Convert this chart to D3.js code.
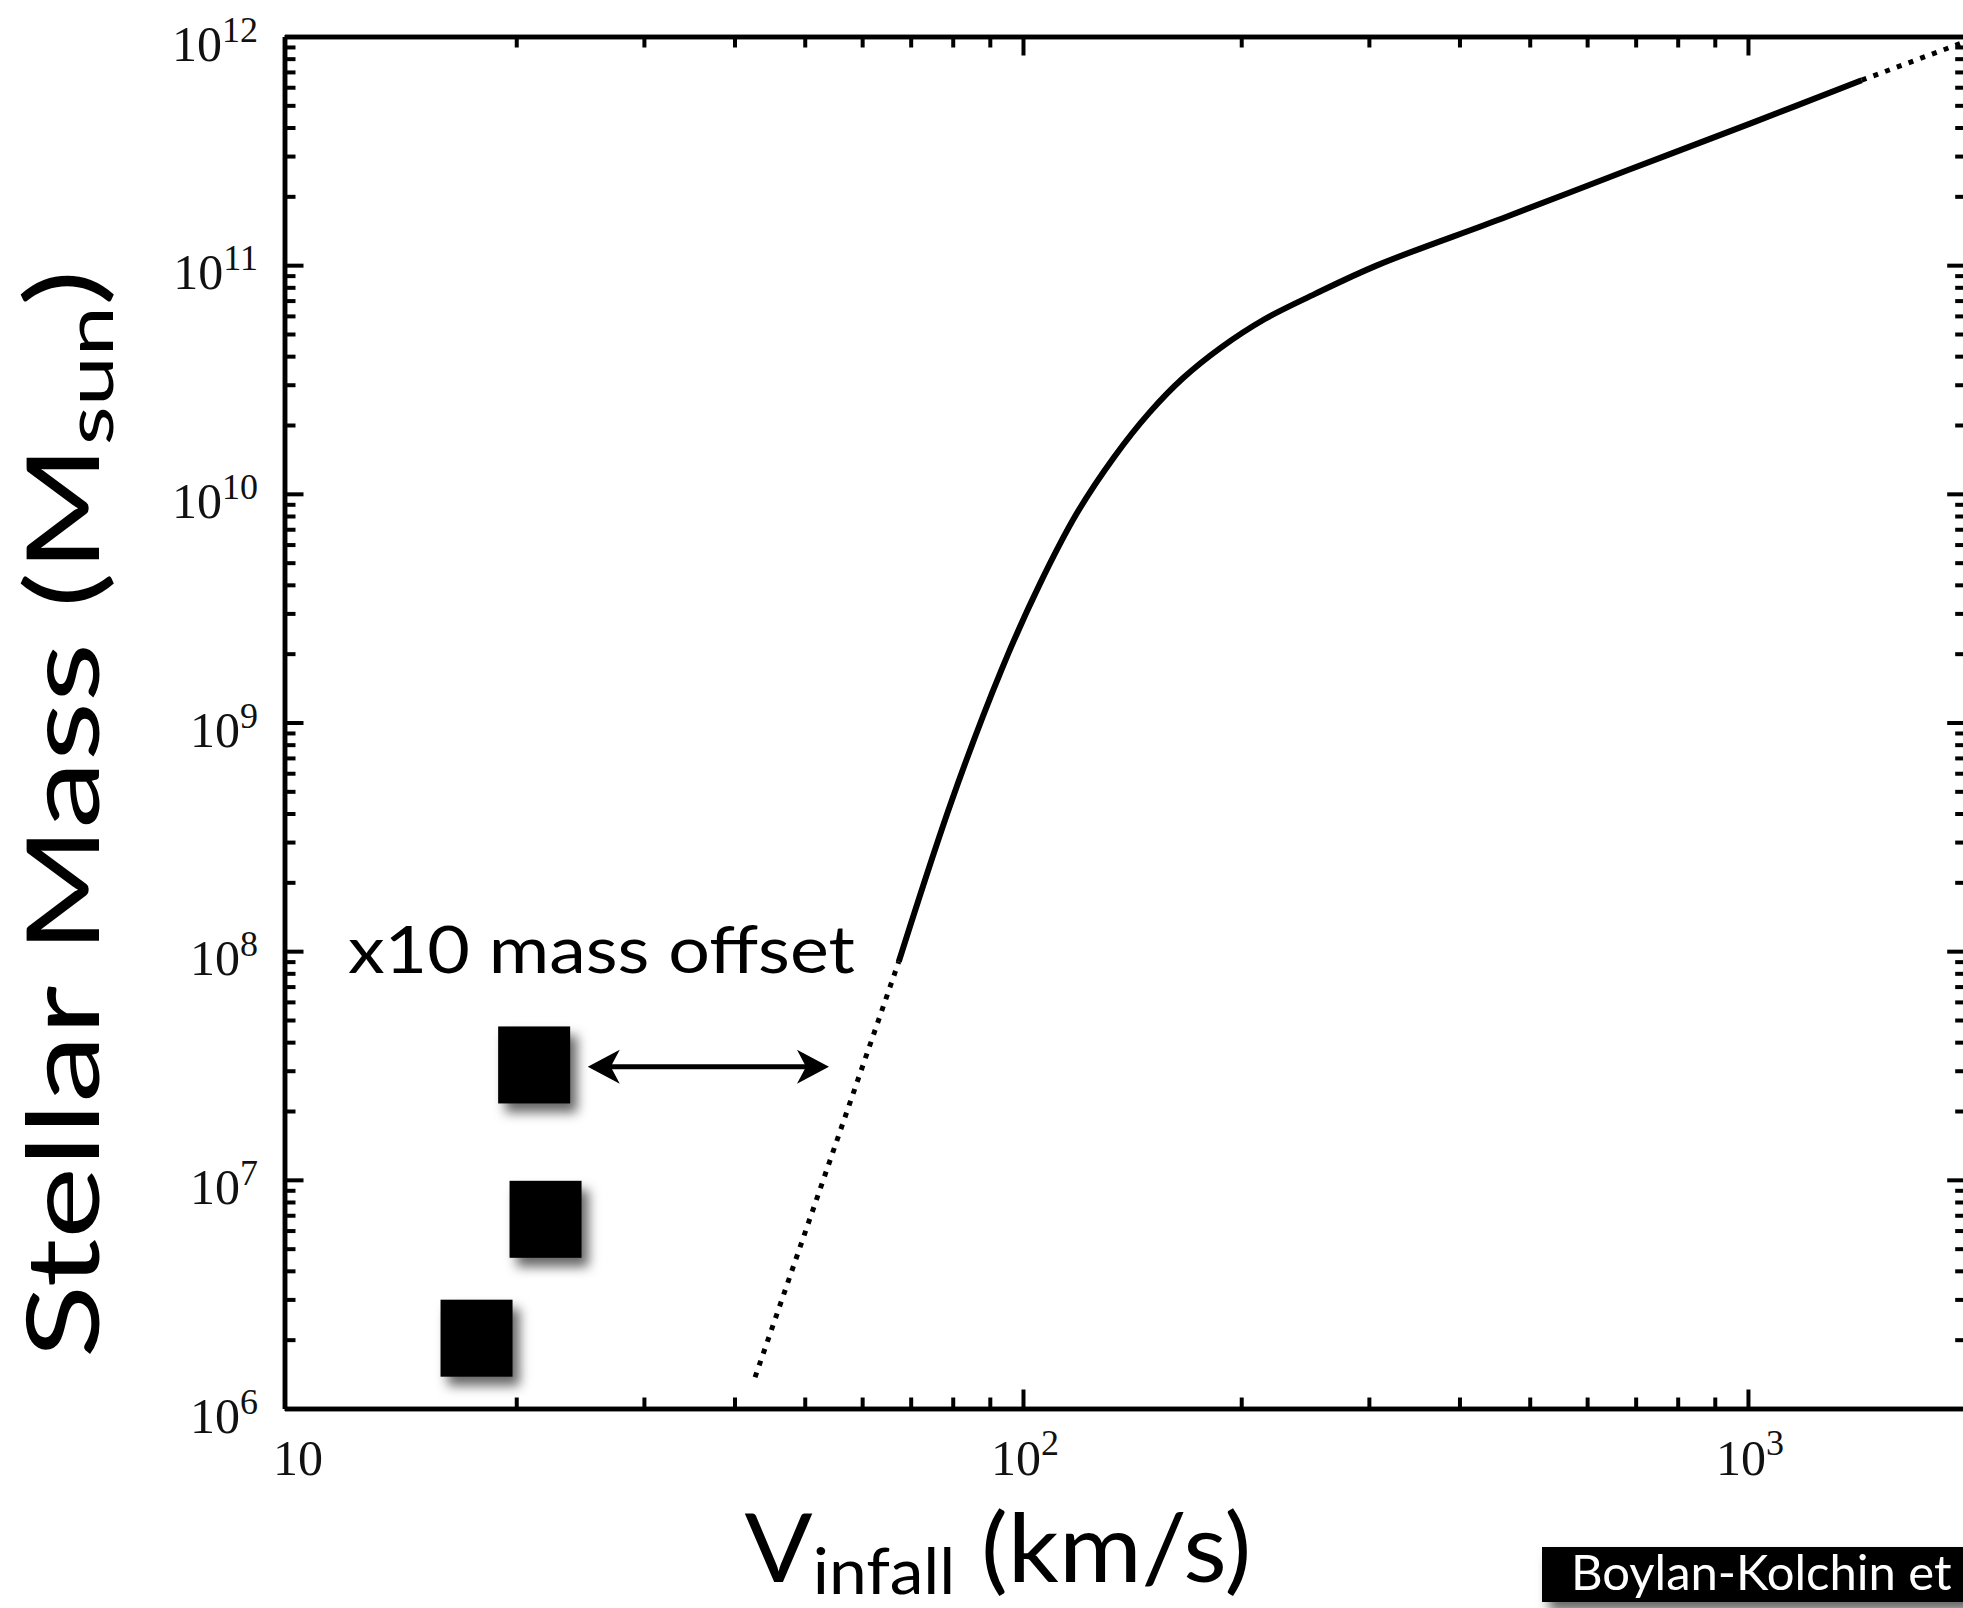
<!DOCTYPE html>
<html><head><meta charset="utf-8">
<script src="https://cdn.jsdelivr.net/npm/d3@7"></script>
<style>body{margin:0;background:#fff;} svg{display:block;}</style>
</head><body>
<svg id="chart" width="1963" height="1608"></svg>
<script>
// ---- data ----
const curveV = [67.4, 79.7, 93.4, 105.2, 118.6, 133.6, 149.3, 166.3, 187.3, 215.3, 252.5, 307.8, 458, 682, 1015, 1435];
const curveM = [9.0e7, 4.53e8, 1.70e9, 3.96e9, 8.2e9, 1.45e10, 2.26e10, 3.21e10, 4.35e10, 5.8e10, 7.47e10, 9.98e10, 1.60e11, 2.60e11, 4.20e11, 6.44e11];
const lowExtV = [42.7, 67.4];
const lowExtM = [1.37e6, 9.0e7];
const highExtV = [1435, 1961];
const highExtM = [6.44e11, 9.3e11];
const satV = [21.17, 21.95, 17.63];
const satM = [3.18e7, 6.72e6, 2.03e6];
const arrowV = [25.1, 54.0];
const arrowM = [3.12e7, 3.12e7];
const xTickVals = [10, 100, 1000];
const xTickExp = ["", "2", "3"];
const yTickVals = [1e6, 1e7, 1e8, 1e9, 1e10, 1e11, 1e12];
const yTickExp = ["6", "7", "8", "9", "10", "11", "12"];
const xMinor = [20,30,40,50,60,70,80,90,200,300,400,500,600,700,800,900];
const yMinor = [];
for (let e = 6; e < 12; e++) for (let k = 2; k <= 9; k++) yMinor.push(k * Math.pow(10, e));
const annotation = "x10 mass offset";
const xTitleMain = "V", xTitleSub = "infall", xTitleRest = " (km/s)";
const yTitleMain = "Stellar Mass (M", yTitleSub = "sun", yTitleRest = ")";
const credit = "Boylan-Kolchin et al. (2012)";

// ---- scales ----
const svg = d3.select("#chart");
const x = d3.scaleLog().domain([9.58, 2000]).range([284.5, 1966.2]);
const y = d3.scaleLog().domain([1e6, 1e12]).range([1408.5, 36.5]);

const defs = svg.append("defs");
const f = defs.append("filter").attr("id","shadow").attr("x","-30%").attr("y","-30%").attr("width","170%").attr("height","170%");
f.append("feDropShadow").attr("dx",7).attr("dy",9).attr("stdDeviation",6).attr("flood-color","#000").attr("flood-opacity",0.6);

// ---- axes ----
function styleAxis(g){
  g.selectAll(".domain").attr("stroke","#000").attr("stroke-width",4.5);
  g.selectAll(".tick line").attr("stroke","#000").attr("stroke-width",4);
  g.selectAll(".tick text").remove();
}
const xMaj = xTickVals.filter(v => v > 10);
const axes = [
  [d3.axisBottom(x), `translate(0,${y(1e6)})`, xMaj, xMinor],
  [d3.axisTop(x), `translate(0,${y(1e12)})`, xMaj, xMinor],
  [d3.axisLeft(y), `translate(${x(9.58)},0)`, yTickVals, yMinor],
  [d3.axisRight(y), `translate(${x(2000)},0)`, yTickVals, yMinor]
];
axes.forEach(([ax, tr, maj, mn]) => {
  svg.append("g").attr("transform", tr)
    .call(ax.tickValues(mn).tickSize(-11).tickSizeOuter(0).tickFormat(""))
    .call(styleAxis);
  svg.append("g").attr("transform", tr)
    .call(ax.tickValues(maj).tickSize(-19).tickSizeOuter(0).tickFormat(""))
    .call(styleAxis);
});

// ---- tick labels ----
const tickFont = "'Liberation Serif', 'DejaVu Serif', serif";
yTickVals.forEach((v,i) => {
  const t = svg.append("text").attr("x", 258).attr("y", y(v) + 24)
    .attr("text-anchor","end").attr("font-family", tickFont).attr("font-size", 50).attr("fill","#111");
  t.append("tspan").text("10");
  t.append("tspan").attr("font-size", 36).attr("dy", -19).text(yTickExp[i]);
});
xTickVals.forEach((v,i) => {
  const t = svg.append("text").attr("x", x(v) + (xTickExp[i] ? 2 : 0)).attr("y", y(1e6) + 66)
    .attr("text-anchor","middle").attr("font-family", tickFont).attr("font-size", 50).attr("fill","#111");
  t.append("tspan").text("10");
  if (xTickExp[i]) t.append("tspan").attr("font-size", 36).attr("dy", -20).text(xTickExp[i]);
});

// ---- curve ----
const line = d3.line().x(d => x(d[0])).y(d => y(d[1])).curve(d3.curveCatmullRom.alpha(0.5));
svg.append("path").datum(curveV.map((v,i)=>[v,curveM[i]])).attr("d", line)
  .attr("fill","none").attr("stroke","#000").attr("stroke-width",6).attr("stroke-linejoin","round");
[[lowExtV, lowExtM],[highExtV, highExtM]].forEach(([vs, ms]) => {
  svg.append("path").datum(vs.map((v,i)=>[v,ms[i]])).attr("d", d3.line().x(d=>x(d[0])).y(d=>y(d[1])))
    .attr("fill","none").attr("stroke","#000").attr("stroke-width",5).attr("stroke-dasharray","5,7.5");
});

// ---- satellites ----
svg.selectAll("rect.sat").data(satV.map((v,i)=>[v,satM[i]])).enter().append("rect")
  .attr("class","sat").attr("x", d => x(d[0]) - 36).attr("y", d => y(d[1]) - 38.5)
  .attr("width", 72).attr("height", 77).attr("fill","#000").attr("filter","url(#shadow)");

// ---- arrow ----
const ax0 = x(arrowV[0]), ax1 = x(arrowV[1]), ay = y(arrowM[0]);
svg.append("line").attr("x1", ax0 + 10).attr("x2", ax1 - 10).attr("y1", ay).attr("y2", ay)
  .attr("stroke","#000").attr("stroke-width",5);
function head(tx, dir){
  const L = 32, W = 17, N = 9;
  return `M${tx},${ay} L${tx+dir*L},${ay-W} L${tx+dir*(L-N)},${ay} L${tx+dir*L},${ay+W} Z`;
}
svg.append("path").attr("d", head(ax0, 1)).attr("fill","#000");
svg.append("path").attr("d", head(ax1, -1)).attr("fill","#000");

// ---- texts ----
const sans = "Lato, 'Open Sans', sans-serif";
function fitWidth(t, target, anchorX){
  const w = t.node().getBBox().width;
  const s = target / w;
  t.attr("transform", `translate(${anchorX},0) scale(${s},1) translate(${-anchorX},0)`);
}
const ann = svg.append("text").attr("x", 348).attr("y", 973).attr("font-family", sans)
  .attr("font-size", 66).attr("fill","#000").text(annotation);
fitWidth(ann, 507, 348);

const xt = svg.append("text").attr("x", 998).attr("y", 1582).attr("text-anchor","middle")
  .attr("font-family", sans).attr("font-size", 95).attr("fill","#000");
xt.append("tspan").text(xTitleMain);
xt.append("tspan").attr("font-size", 64).attr("dy", 12).text(xTitleSub);
xt.append("tspan").attr("dy", -12).text(xTitleRest);
fitWidth(xt, 507, 998);

const yg = svg.append("g").attr("transform", "translate(99,814) rotate(-90)");
const ytx = yg.append("text").attr("x", 0).attr("y", 0).attr("text-anchor","middle")
  .attr("font-family", sans).attr("font-size", 100).attr("fill","#000");
ytx.append("tspan").text(yTitleMain);
ytx.append("tspan").attr("font-size", 66).attr("dy", 14).text(yTitleSub);
ytx.append("tspan").attr("dy", -14).text(yTitleRest);
fitWidth(ytx, 1089, 0);

// ---- credit box ----
svg.append("rect").attr("x", 1542).attr("y", 1547).attr("width", 520).attr("height", 55)
  .attr("fill","#000").attr("filter","url(#shadow)");
svg.append("text").attr("x", 1571).attr("y", 1590).attr("font-family", sans).attr("font-size", 49)
  .attr("fill","#fff").text(credit);
</script>
</body></html>
